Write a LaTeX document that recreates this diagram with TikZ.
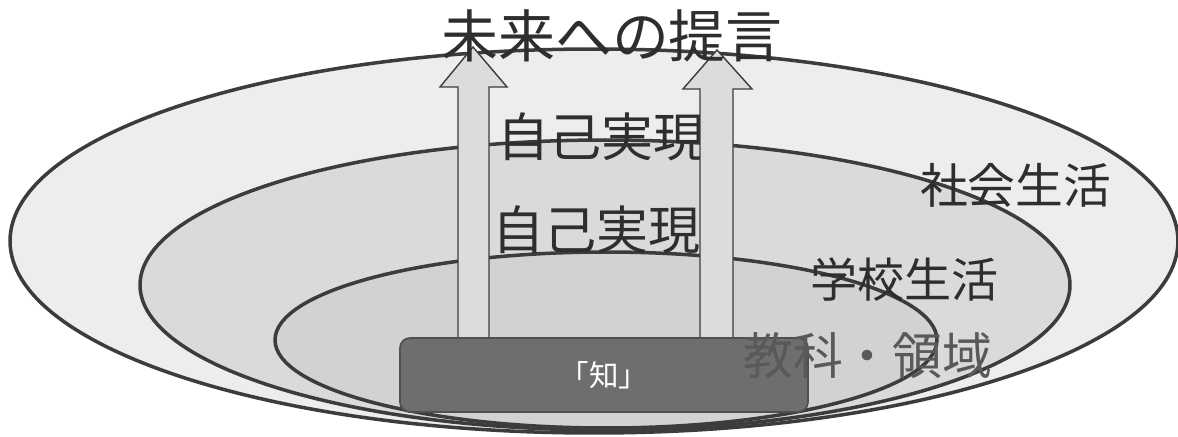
\documentclass[tikz,border=0pt]{standalone}
\usepackage{fontspec}
\newfontfamily\jp{Noto Sans CJK JP}
\definecolor{edge}{HTML}{3C3C3C}
\definecolor{outerfill}{HTML}{EDEDED}
\definecolor{midfill}{HTML}{DADADA}
\definecolor{innerfill}{HTML}{D2D2D2}
\definecolor{arrowfill}{HTML}{DCDCDC}
\definecolor{boxfill}{HTML}{6E6E6E}
\definecolor{boxedge}{HTML}{505050}
\definecolor{txt}{HTML}{2E2E2E}
\tikzset{
  ring/.style={draw=edge, line width=5pt},
  bigarrow/.style={fill=arrowfill, draw=edge, line width=2pt, line join=miter},
  lbl/.style={inner sep=0pt, text=txt},
}
\begin{document}
\begin{tikzpicture}[x=0.05cm, y=-0.05cm]
\useasboundingbox (0,0) rectangle (1178,437);
% rings
\path[ring, fill=outerfill] (594,241) ellipse [x radius=29.2cm, y radius=9.6cm];
\path[ring, fill=midfill] (605,285) ellipse [x radius=23.25cm, y radius=7.25cm];
\path[ring, fill=innerfill] (606,340) ellipse [x radius=16.55cm, y radius=4.4cm];
% labels under the arrows
\node[lbl, anchor=west, font=\jp\fontsize{74}{74}\selectfont] (sj1) at (497,137) {自己実現};
\node[lbl, anchor=west, font=\jp\fontsize{74}{74}\selectfont] (sj2) at (492,230) {自己実現};
\node[lbl, anchor=west, font=\jp\fontsize{68}{68}\selectfont] (shakai) at (920,185) {社会生活};
\node[lbl, anchor=west, font=\jp\fontsize{67}{67}\selectfont] (gakkou) at (810,280) {学校生活};
% arrows
\coordinate (la) at (473,47);
\coordinate (ra) at (717,50);
\draw[bigarrow] (458,345) -- (458,87) -- (440,87) -- (la) -- (507,87) -- (489,87) -- (489,345) -- cycle;
\draw[bigarrow] (700,345) -- (700,89) -- (683,89) -- (ra) -- (752,89) -- (733,89) -- (733,345) -- cycle;
% knowledge box
\node[draw=boxedge, fill=boxfill, line width=2.5pt, rounded corners=0.5cm,
      minimum width=20.4cm, minimum height=3.7cm, text=white,
      font=\jp\fontsize{42}{42}\selectfont] (chi) at (604,375) {「知」};
\node[lbl, anchor=west, text=black!65, font=\jp\fontsize{71}{71}\selectfont] (kyouka) at (743,356) {教科・領域};
% title
\node[lbl, font=\jp\fontsize{81}{81}\selectfont] (title) at (612,36) {未来への提言};
\end{tikzpicture}
\end{document}
